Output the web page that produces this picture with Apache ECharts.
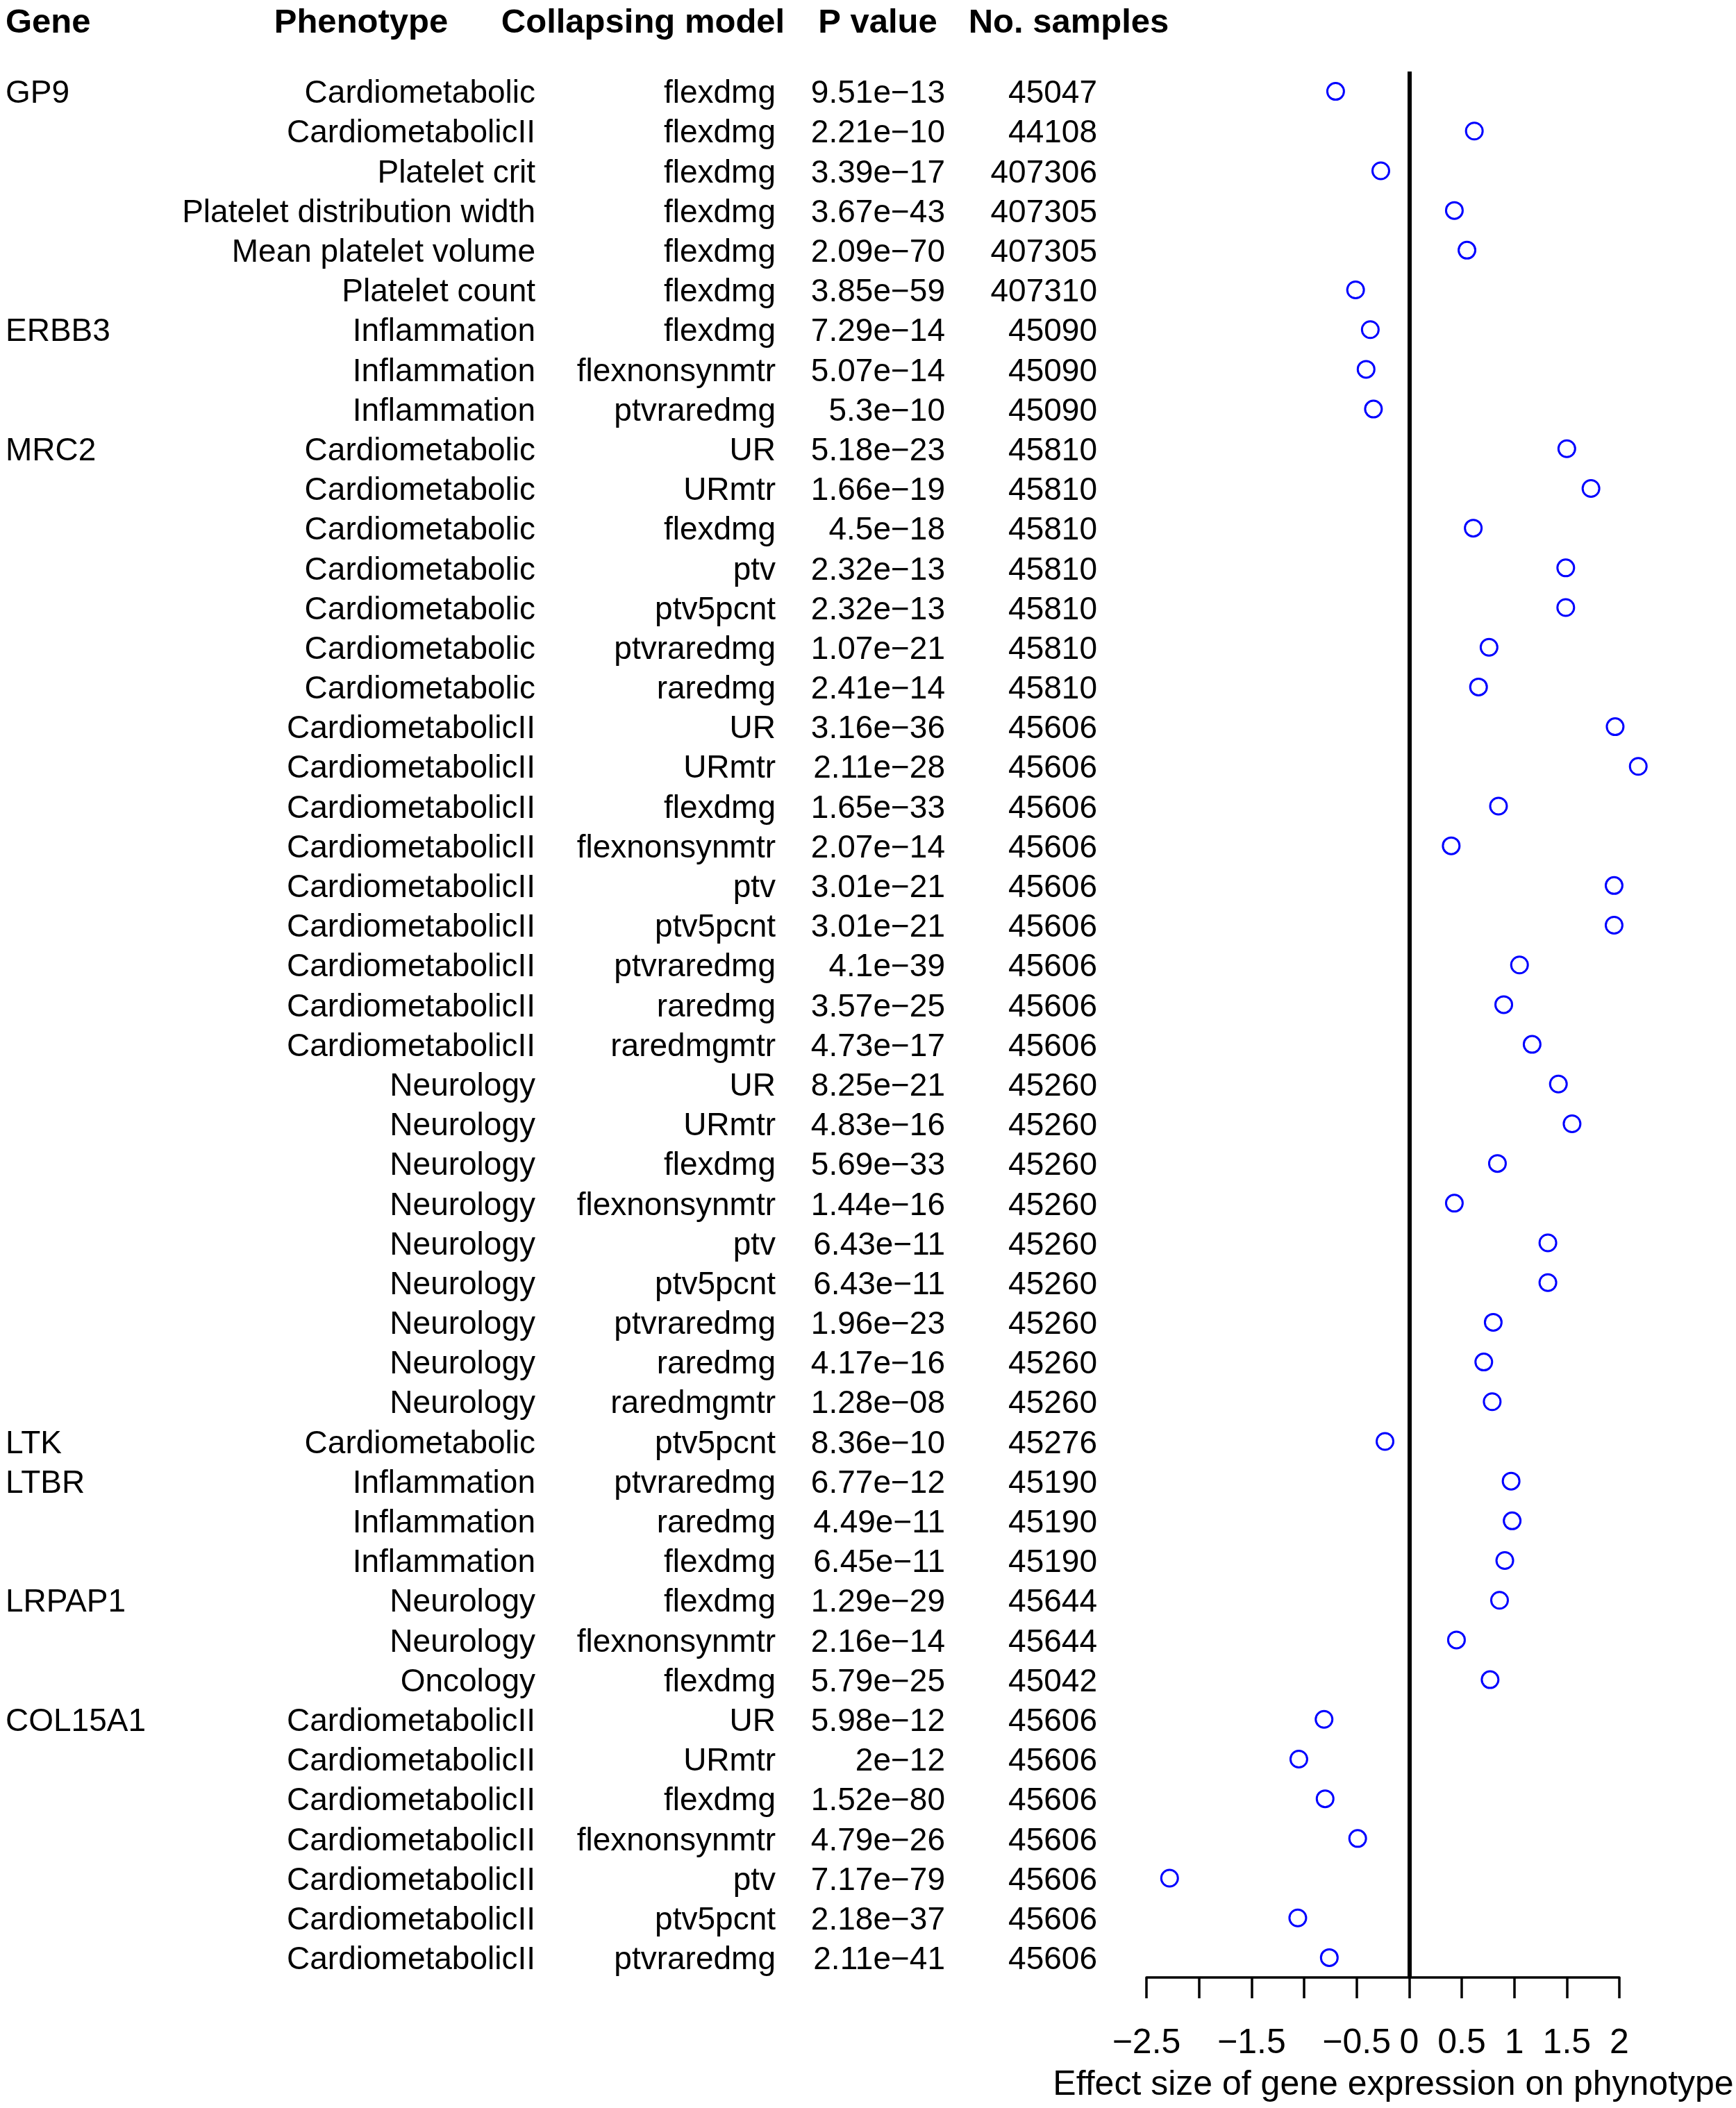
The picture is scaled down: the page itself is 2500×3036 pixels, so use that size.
<!DOCTYPE html>
<html>
<head>
<meta charset="utf-8">
<script src="https://cdn.jsdelivr.net/npm/echarts@6/dist/echarts.min.js"></script>
<style>
html,body{margin:0;padding:0;background:#fff;}
#chart{width:2500px;height:3036px;}
</style>
</head>
<body>
<div id="chart"></div>
<script>
// ---------------- data ----------------
const headers = ['Gene', 'Phenotype', 'Collapsing model', 'P value', 'No. samples'];

const genes = [
  'GP9','','','','','',
  'ERBB3','','',
  'MRC2','','','','','','','','','','','','','','','','','','','','','','','','',
  'LTK',
  'LTBR','','',
  'LRPAP1','','',
  'COL15A1','','','','','',''
];

const phenotypes = [
  'Cardiometabolic','CardiometabolicII','Platelet crit','Platelet distribution width','Mean platelet volume','Platelet count',
  'Inflammation','Inflammation','Inflammation',
  'Cardiometabolic','Cardiometabolic','Cardiometabolic','Cardiometabolic','Cardiometabolic','Cardiometabolic','Cardiometabolic',
  'CardiometabolicII','CardiometabolicII','CardiometabolicII','CardiometabolicII','CardiometabolicII','CardiometabolicII','CardiometabolicII','CardiometabolicII','CardiometabolicII',
  'Neurology','Neurology','Neurology','Neurology','Neurology','Neurology','Neurology','Neurology','Neurology',
  'Cardiometabolic',
  'Inflammation','Inflammation','Inflammation',
  'Neurology','Neurology','Oncology',
  'CardiometabolicII','CardiometabolicII','CardiometabolicII','CardiometabolicII','CardiometabolicII','CardiometabolicII','CardiometabolicII'
];

const models = [
  'flexdmg','flexdmg','flexdmg','flexdmg','flexdmg','flexdmg',
  'flexdmg','flexnonsynmtr','ptvraredmg',
  'UR','URmtr','flexdmg','ptv','ptv5pcnt','ptvraredmg','raredmg',
  'UR','URmtr','flexdmg','flexnonsynmtr','ptv','ptv5pcnt','ptvraredmg','raredmg','raredmgmtr',
  'UR','URmtr','flexdmg','flexnonsynmtr','ptv','ptv5pcnt','ptvraredmg','raredmg','raredmgmtr',
  'ptv5pcnt',
  'ptvraredmg','raredmg','flexdmg',
  'flexdmg','flexnonsynmtr','flexdmg',
  'UR','URmtr','flexdmg','flexnonsynmtr','ptv','ptv5pcnt','ptvraredmg'
];

const pvalues = [
  '9.51e\u221213','2.21e\u221210','3.39e\u221217','3.67e\u221243','2.09e\u221270','3.85e\u221259',
  '7.29e\u221214','5.07e\u221214','5.3e\u221210',
  '5.18e\u221223','1.66e\u221219','4.5e\u221218','2.32e\u221213','2.32e\u221213','1.07e\u221221','2.41e\u221214',
  '3.16e\u221236','2.11e\u221228','1.65e\u221233','2.07e\u221214','3.01e\u221221','3.01e\u221221','4.1e\u221239','3.57e\u221225','4.73e\u221217',
  '8.25e\u221221','4.83e\u221216','5.69e\u221233','1.44e\u221216','6.43e\u221211','6.43e\u221211','1.96e\u221223','4.17e\u221216','1.28e\u221208',
  '8.36e\u221210',
  '6.77e\u221212','4.49e\u221211','6.45e\u221211',
  '1.29e\u221229','2.16e\u221214','5.79e\u221225',
  '5.98e\u221212','2e\u221212','1.52e\u221280','4.79e\u221226','7.17e\u221279','2.18e\u221237','2.11e\u221241'
];

const samples = [
  '45047','44108','407306','407305','407305','407310',
  '45090','45090','45090',
  '45810','45810','45810','45810','45810','45810','45810',
  '45606','45606','45606','45606','45606','45606','45606','45606','45606',
  '45260','45260','45260','45260','45260','45260','45260','45260','45260',
  '45276',
  '45190','45190','45190',
  '45644','45644','45042',
  '45606','45606','45606','45606','45606','45606','45606'
];

const effects = [
  -0.70, 0.62, -0.27, 0.43, 0.55, -0.51,
  -0.37, -0.41, -0.34,
  1.50, 1.73, 0.61, 1.49, 1.49, 0.76, 0.66,
  1.96, 2.18, 0.85, 0.40, 1.95, 1.95, 1.05, 0.90, 1.17,
  1.42, 1.55, 0.84, 0.43, 1.32, 1.32, 0.80, 0.71, 0.79,
  -0.23,
  0.97, 0.98, 0.91,
  0.86, 0.45, 0.77,
  -0.81, -1.05, -0.80, -0.49, -2.28, -1.06, -0.76
];

const xTicksHidden = [-2, -1];
const xAxisTitle = 'Effect size of gene expression on phynotype';

// ---------------- chart ----------------
const FONT = '"Liberation Sans", Arial, Helvetica, sans-serif';
const rowIds = effects.map((_, i) => 'row' + i);
const GRID_LEFT = 1651;

function textAxis(col, offset, align) {
  return {
    type: 'category',
    gridIndex: 0,
    data: rowIds,
    inverse: true,
    position: 'left',
    offset: offset,
    axisLine: { show: false },
    axisTick: { show: false },
    splitLine: { show: false },
    axisLabel: {
      interval: 0,
      margin: 0,
      align: align,
      fontFamily: FONT,
      fontSize: 46,
      color: '#000',
      formatter: (v, i) => col[i] ? '{t|' + col[i] + '}' : '',
      rich: {
        t: { fontFamily: FONT, fontSize: 46, color: '#000', padding: [8, 0, 0, 0] }
      }
    }
  };
}

const chart = echarts.init(document.getElementById('chart'), null, { renderer: 'canvas' });

const headerStyle = { fontFamily: FONT, fontSize: 49, fontWeight: 'bold', fill: '#000', verticalAlign: 'middle' };

chart.setOption({
  backgroundColor: '#ffffff',
  animation: false,
  grid: { left: GRID_LEFT, right: 168, top: 103, bottom: 188, containLabel: false },
  xAxis: {
    type: 'value',
    min: -2.5,
    max: 2,
    interval: 0.5,
    position: 'bottom',
    splitLine: { show: false },
    axisLine: { show: true, onZero: false, lineStyle: { color: '#000', width: 3.5 } },
    axisTick: { show: true, inside: false, length: 30, lineStyle: { color: '#000', width: 3.5 } },
    axisLabel: {
      show: true,
      margin: 70,
      fontFamily: FONT,
      fontSize: 50,
      color: '#000',
      showMinLabel: true,
      showMaxLabel: true,
      hideOverlap: false,
      formatter: function (v) {
        if (xTicksHidden.some(t => Math.abs(t - v) < 1e-9)) return '';
        return String(v).replace('-', '\u2212');
      }
    },
    name: xAxisTitle,
    nameLocation: 'middle',
    nameGap: 130,
    nameTextStyle: { fontFamily: FONT, fontSize: 50, color: '#000', padding: [0, 0, 0, 30] }
  },
  yAxis: [
    {
      type: 'category',
      gridIndex: 0,
      data: rowIds,
      inverse: true,
      show: false
    },
    textAxis(samples, 71, 'right'),
    textAxis(pvalues, 290, 'right'),
    textAxis(models, 534, 'right'),
    textAxis(phenotypes, 880, 'right'),
    textAxis(genes, 1643, 'left')
  ],
  graphic: [
    { type: 'text', x: 8, y: 33, style: Object.assign({ text: headers[0], align: 'left' }, headerStyle) },
    { type: 'text', x: 520, y: 33, style: Object.assign({ text: headers[1], align: 'center' }, headerStyle) },
    { type: 'text', x: 926, y: 33, style: Object.assign({ text: headers[2], align: 'center' }, headerStyle) },
    { type: 'text', x: 1264, y: 33, style: Object.assign({ text: headers[3], align: 'center' }, headerStyle) },
    { type: 'text', x: 1539, y: 33, style: Object.assign({ text: headers[4], align: 'center' }, headerStyle) }
  ],
  series: [
    {
      type: 'scatter',
      xAxisIndex: 0,
      yAxisIndex: 0,
      clip: false,
      data: effects.map((v, i) => [v, i]),
      symbol: 'circle',
      symbolSize: 24,
      itemStyle: { color: 'rgba(0,0,0,0)', borderColor: '#0000ff', borderWidth: 3, opacity: 1 },
      emphasis: { disabled: true },
      markLine: {
        silent: true,
        symbol: ['none', 'none'],
        label: { show: false },
        lineStyle: { color: '#000', width: 6, type: 'solid' },
        data: [{ xAxis: 0 }]
      },
      z: 3
    }
  ]
});
</script>
</body>
</html>
